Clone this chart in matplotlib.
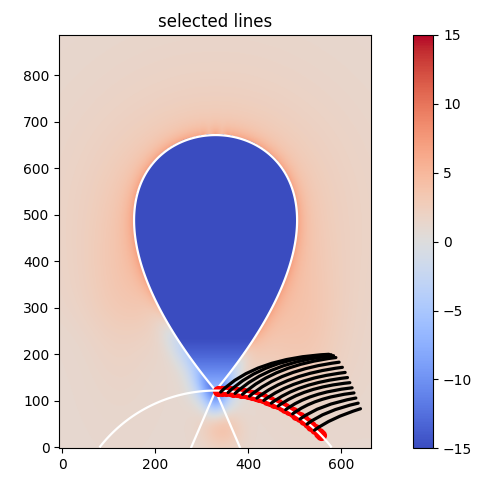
import numpy as np
import matplotlib
matplotlib.use("Agg")
import matplotlib.pyplot as plt
from matplotlib.path import Path
from matplotlib.patches import PathPatch

# ---------------- text / scales ----------------
TITLE = "selected lines"
VMIN, VMAX = -15, 15
XLIM = (-6.5, 664)
YLIM = (-2, 886)
X_TICKS = [0, 200, 400, 600]
Y_TICKS = [0, 100, 200, 300, 400, 500, 600, 700, 800]
CBAR_TICKS = [-15, -10, -5, 0, 5, 10, 15]

# ---------------- separatrix model ----------------
XPOINT = (330.0, 122.0)        # crossing point of the separatrix
DROP_TOP = 671.0               # top of the blue tear-drop
DROP_COEF = 0.69               # width coefficient of the tear-drop
LOWER_COEF = 0.185             # opening of the legs below the X-point
ARC_CENTER = (330.0, -195.0)   # lower white arc
ARC_RADIUS = 317.0

# ---------------- red points along the arc ----------------
red_x = [336, 344, 352, 360, 368, 376, 384, 392, 400, 408, 416, 424, 432, 440,
         448, 456, 464, 472, 480, 488, 496, 504, 512, 520, 528, 536, 544, 552, 557]
red_y = [121.9, 121.7, 121.2, 120.6, 119.7, 118.6, 117.4, 115.9, 114.2, 112.3,
         110.1, 107.7, 105.1, 102.3, 99.2, 95.9, 92.3, 88.4, 84.3, 79.8, 75.1,
         70.0, 64.5, 58.7, 52.6, 45.9, 38.9, 31.3, 26.0]

# ---------------- selected (black) lines: start, bend, end ----------------
line_start_x = [341, 357, 372, 388, 403, 419, 434, 450, 465, 481, 496, 512, 527, 543]
line_start_y = [119, 118, 116, 114, 110, 106, 101, 95, 89, 81, 72, 61, 50, 37]
line_bend_x = [414, 435, 446, 458, 470, 483, 495, 507, 519, 531, 542, 554, 565, 578]
line_bend_y = [192, 192, 184, 177, 167, 157, 147, 138, 129, 118, 107, 92, 79, 63]
line_end_x = [574, 579, 584, 589, 596, 603, 609, 614, 619, 624, 628, 632, 637, 642]
line_end_y = [200, 199, 197, 193, 183, 172, 161, 150, 139, 128, 117, 106, 95, 83]

# ---------------- background field model ----------------
FIELD_BASE = 1.1
HALO_NEAR, HALO_NEAR_W = 3.4, 16.0
HALO_FAR, HALO_FAR_W = 2.4, 120.0
# (amplitude, centre x, centre y, sigma along, sigma across, angle in degrees)
BLOBS = [(-8.0, 327, 135, 28, 28, 0),
         (-6.0, 285, 195, 75, 24, 125),
         (-3.0, 372, 170, 35, 12, 55),
         (-4.5, 330, 95, 24, 18, 90),
         (2.8, 345, 42, 30, 32, 0),
         (1.3, 525, 260, 120, 55, 90),
         (1.0, 125, 320, 150, 55, 90)]

step = 2.0
gx = np.arange(XLIM[0], XLIM[1] + step, step)
gy = np.arange(YLIM[0], YLIM[1] + step, step)
X, Y = np.meshgrid(gx, gy)
U = X - XPOINT[0]
V = Y - XPOINT[1]
H = DROP_TOP - XPOINT[1]
G = np.where(V >= 0, DROP_COEF * V**2 * (1 - V / H), LOWER_COEF * V**2)
psi = U**2 - G
inside = (psi < 0) & (V > 0) & (V < H)

# distance to tear-drop outline
vs = np.linspace(0, H, 300)
us = np.sqrt(np.clip(DROP_COEF * vs**2 * (1 - vs / H), 0, None))
bx = np.concatenate([XPOINT[0] + us, XPOINT[0] - us])
by = np.concatenate([XPOINT[1] + vs, XPOINT[1] + vs])
D = np.empty_like(X)
for i in range(0, X.shape[0], 40):
    xx = X[i:i + 40, :, None]
    yy = Y[i:i + 40, :, None]
    D[i:i + 40] = np.sqrt(((xx - bx) ** 2 + (yy - by) ** 2).min(axis=2))

fade = 1.0 / (1.0 + np.exp(-((Y - 230) + 0.6 * (X - 330)) / 30.0))
fade = np.maximum(fade, 1.0 / (1.0 + np.exp(-(Y - 260) / 30.0)))
val = FIELD_BASE + (HALO_NEAR * np.exp(-D / HALO_NEAR_W) + HALO_FAR * np.exp(-D / HALO_FAR_W)) * fade
for a, cx, cy, sa, sc, ang in BLOBS:
    t = np.deg2rad(ang)
    pa = (X - cx) * np.cos(t) + (Y - cy) * np.sin(t)
    pc = -(X - cx) * np.sin(t) + (Y - cy) * np.cos(t)
    val = val + a * np.exp(-(pa**2 / (2 * sa**2) + pc**2 / (2 * sc**2)))
val_in = -6.0 - 13.0 * (1 - np.exp(-np.clip(V, 0, None) / 95.0))
val = np.where(inside, val_in, val)

arc = np.sqrt((X - ARC_CENTER[0]) ** 2 + (Y - ARC_CENTER[1]) ** 2) - ARC_RADIUS

# ---------------- figure ----------------
fig = plt.figure(figsize=(4.86, 4.82), dpi=100)
ax = fig.add_axes([59.3 / 486, 1 - 448.3 / 482, 311.4 / 486, 413.3 / 482])
cax = fig.add_axes([413.3 / 486, 1 - 448.3 / 482, 20 / 486, 413.3 / 482])

im = ax.imshow(val, cmap="coolwarm", vmin=VMIN, vmax=VMAX, origin="lower",
               extent=(gx[0] - step / 2, gx[-1] + step / 2, gy[0] - step / 2, gy[-1] + step / 2),
               interpolation="bilinear", aspect="auto", zorder=0)
ax.contour(X, Y, psi, levels=[0], colors="white", linewidths=1.6, zorder=2)
ax.plot(red_x, red_y, "o", color="red", markersize=8, markeredgewidth=0, zorder=3)
arc_mask = np.where(Y >= 0, arc, np.nan)
ax.contour(X, Y, arc_mask, levels=[0], colors="white", linewidths=1.6, zorder=3.5)

for sx, sy, cx, cy, ex, ey in zip(line_start_x, line_start_y, line_bend_x, line_bend_y,
                                  line_end_x, line_end_y):
    path = Path([(sx, sy), (cx, cy), (ex, ey)], [Path.MOVETO, Path.CURVE3, Path.CURVE3])
    ax.add_patch(PathPatch(path, facecolor="none", edgecolor="black", linewidth=2.3,
                           capstyle="round", zorder=4))

ax.set_xlim(*XLIM)
ax.set_ylim(*YLIM)
ax.set_xticks(X_TICKS)
ax.set_yticks(Y_TICKS)
ax.set_title(TITLE)

cb = fig.colorbar(im, cax=cax, ticks=CBAR_TICKS)

fig.savefig("out.png", dpi=100)
